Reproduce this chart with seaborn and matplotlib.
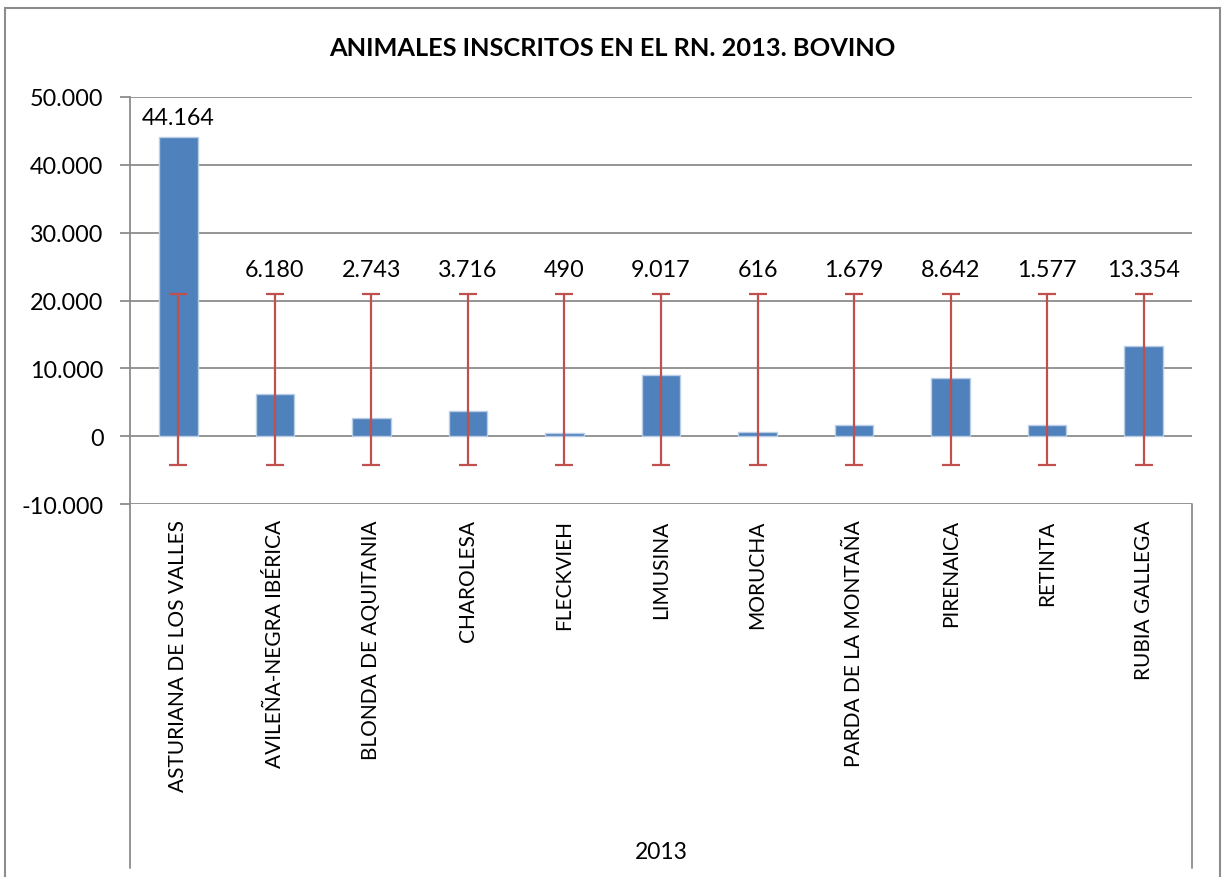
import numpy as np
import pandas as pd
import matplotlib
matplotlib.use("Agg")
import matplotlib.pyplot as plt
from matplotlib.lines import Line2D
from matplotlib.patches import Rectangle
import seaborn as sns

# Breeds registered in the herd book (bovine), 2013
breeds = [
    "ASTURIANA DE LOS VALLES",
    "AVILEÑA-NEGRA IBÉRICA",
    "BLONDA DE AQUITANIA",
    "CHAROLESA",
    "FLECKVIEH",
    "LIMUSINA",
    "MORUCHA",
    "PARDA DE LA MONTAÑA",
    "PIRENAICA",
    "RETINTA",
    "RUBIA GALLEGA",
]
animals = [44164, 6180, 2743, 3716, 490, 9017, 616, 1679, 8642, 1577, 13354]
year_label = "2013"
title = "ANIMALES INSCRITOS EN EL RN. 2013. BOVINO"
y_ticks = [-10000, 0, 10000, 20000, 30000, 40000, 50000]

BAR = "#4F81BD"
BAR_EDGE = "#B9CDE5"
ERR = "#C0504D"
GRID = "#8C8C8C"

sns.set_theme(style="white")
plt.rcParams["font.family"] = ["Lato", "DejaVu Sans"]

W, H = 1223, 878
fig = plt.figure(figsize=(W / 100, H / 100), dpi=100)
fig.patch.set_facecolor("white")

def fx(px):
    return px / W

def fy(py):
    return 1 - py / H

left, right, top, bottom = 130, 1192, 98, 505
ax = fig.add_axes([fx(left), fy(bottom), fx(right - left), fy(top) - fy(bottom)])

df = pd.DataFrame({"raza": breeds, "animales": animals})

# horizontal gridlines under the bars
for t in y_ticks:
    ax.axhline(t, color=GRID, lw=1.3, zorder=0)

sns.barplot(data=df, x="raza", y="animales", color=BAR, width=0.4,
            errorbar=None, saturation=1, edgecolor=BAR_EDGE, linewidth=1.0,
            ax=ax, zorder=2)

# standard-deviation error bars centred on the series mean
vals = np.array(animals, dtype=float)
mean = vals.mean()
sd = vals.std(ddof=1)
xs = np.arange(len(breeds))
ax.errorbar(xs, np.full(len(xs), mean), yerr=sd, fmt="none", ecolor=ERR,
            elinewidth=1.6, capsize=6.5, capthick=1.6, zorder=3)

def fmt(v):
    return f"{v:,.0f}".replace(",", ".")

NUM_FS = 16.8
for x, v in zip(xs, animals):
    base = max(v, mean + sd)
    lift = 14 if v > mean + sd else 18
    ax.annotate(fmt(v), (x, base), xytext=(0, lift), textcoords="offset points",
                ha="center", va="center", fontsize=NUM_FS, color="black")

ax.set_xlim(-0.5, len(breeds) - 0.5)
ax.set_ylim(-10000, 50000)
ax.set_yticks(y_ticks)
ax.set_yticklabels([fmt(t) for t in y_ticks], fontsize=NUM_FS, color="black")
ax.tick_params(axis="y", length=7, width=1.3, color=GRID, pad=12, left=True)
ax.set_xticks(xs)
ax.set_xticklabels(breeds, rotation=90, fontsize=15, color="black", va="top")
ax.tick_params(axis="x", length=0, pad=11)
ax.set_xlabel("")
ax.set_ylabel("")

for s in ["top", "right", "bottom"]:
    ax.spines[s].set_visible(False)
ax.spines["left"].set_color(GRID)
ax.spines["left"].set_linewidth(1.3)
ax.set_facecolor("white")

# category-group bracket lines below the plot area
cat_bottom = 869
fig.add_artist(Line2D([fx(left), fx(left)], [fy(bottom), fy(cat_bottom)],
                      color=GRID, lw=1.3))
fig.add_artist(Line2D([fx(right), fx(right)], [fy(bottom), fy(cat_bottom)],
                      color=GRID, lw=1.3))
fig.text(fx((left + right) / 2), fy(853), year_label, ha="center", va="center",
         fontsize=16.5, color="black")

# chart title
fig.text(fx(612), fy(48), title, ha="center", va="center", fontsize=18.3,
         fontweight="bold", color="black")

# outer chart frame
fig.add_artist(Rectangle((fx(5), fy(H + 20)), fx(1220 - 5), fy(9) - fy(H + 20),
                         fill=False, edgecolor=GRID, lw=1.5))

fig.savefig("out.png", dpi=100, facecolor="white")
